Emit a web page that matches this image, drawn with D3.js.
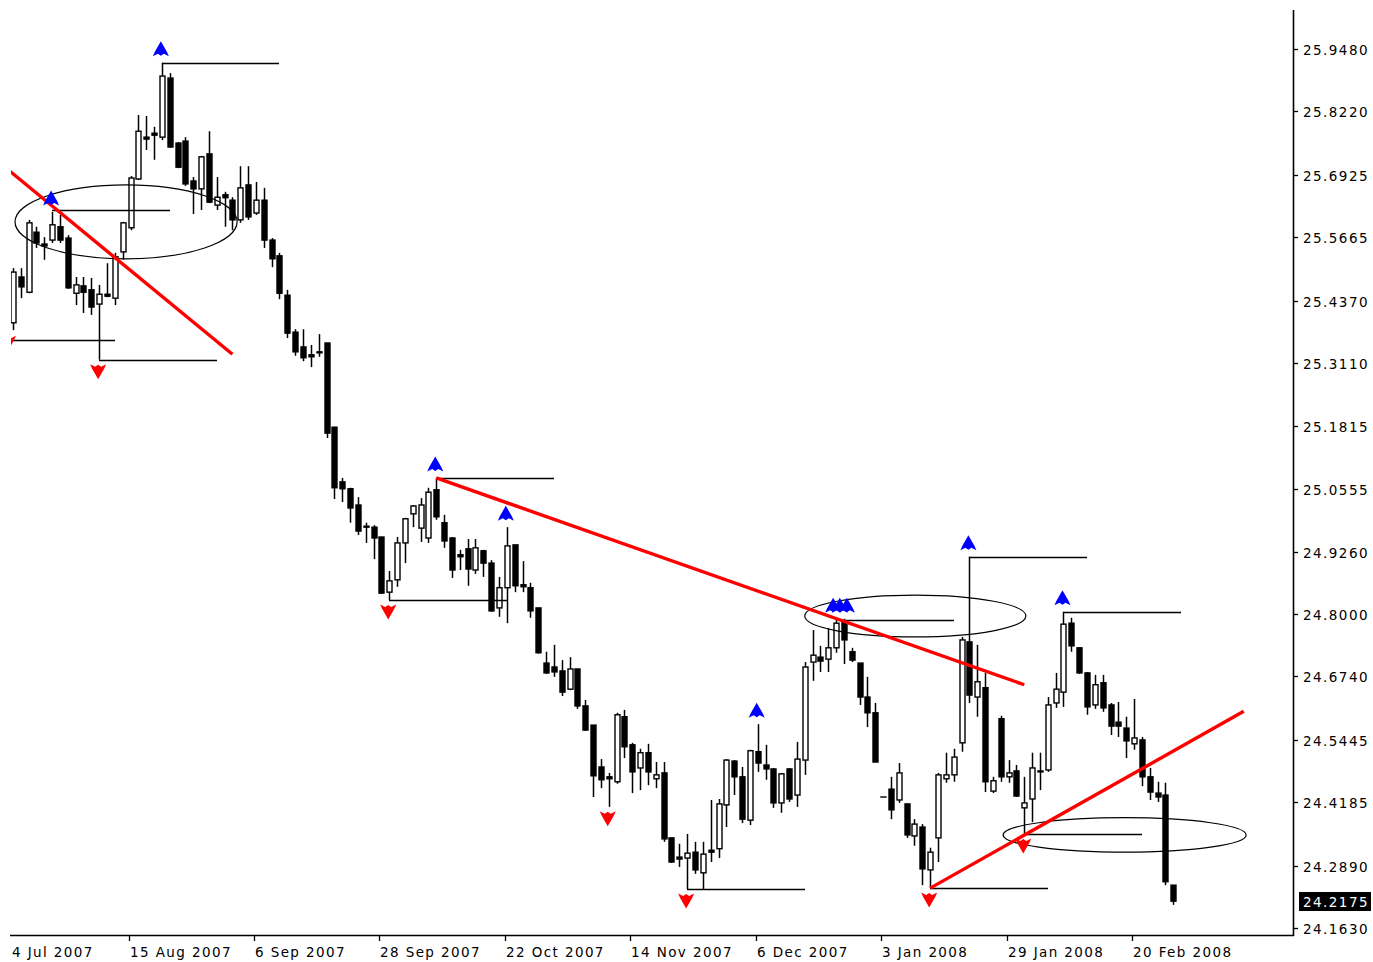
<!DOCTYPE html>
<html>
<head>
<meta charset="utf-8">
<script src="https://cdn.jsdelivr.net/npm/d3@7"></script>
<style>
  html, body { margin: 0; padding: 0; background: #fff; }
  svg { display: block; }
  text { font-family: "DejaVu Sans", Verdana, sans-serif; fill: #000; }
</style>
</head>
<body>
<svg id="chart" width="1373" height="962"></svg>
<script>
// Daily candles, 25 Jul 2007 .. 25 Feb 2008 (bar index 0..148)
const open = [25.392,25.485,25.454,25.576,25.552,25.560,25.587,25.564,25.452,25.467,
  25.459,25.430,25.450,25.442,25.536,25.585,25.684,25.769,25.777,25.769,
  25.889,25.757,25.761,25.680,25.664,25.735,25.631,25.652,25.641,25.601,
  25.672,25.615,25.641,25.560,25.528,25.448,25.373,25.343,25.327,25.333,
  25.351,25.180,25.069,25.055,25.022,24.979,24.977,24.957,24.845,24.870,
  24.945,25.004,24.975,24.955,25.053,24.986,24.955,24.921,24.933,24.890,
  24.929,24.904,24.813,24.854,24.941,24.860,24.854,24.813,24.701,24.693,
  24.685,24.648,24.689,24.614,24.575,24.490,24.470,24.460,24.592,24.535,
  24.488,24.519,24.466,24.478,24.346,24.307,24.305,24.317,24.275,24.321,
  24.324,24.413,24.502,24.470,24.382,24.521,24.494,24.486,24.417,24.486,
  24.433,24.504,24.703,24.713,24.709,24.732,24.784,24.724,24.701,24.632,
  24.600,24.429,24.445,24.423,24.415,24.350,24.368,24.281,24.346,24.466,
  24.474,24.539,24.744,24.632,24.651,24.441,24.588,24.470,24.482,24.407,
  24.425,24.482,24.484,24.620,24.642,24.782,24.732,24.681,24.616,24.661,
  24.616,24.581,24.569,24.537,24.545,24.470,24.437,24.433,24.250];
const high = [25.503,25.503,25.601,25.587,25.566,25.617,25.611,25.570,25.485,25.485,
  25.483,25.469,25.513,25.534,25.597,25.690,25.814,25.812,25.790,25.920,
  25.899,25.759,25.769,25.688,25.731,25.781,25.688,25.658,25.647,25.710,
  25.710,25.678,25.666,25.564,25.534,25.459,25.379,25.379,25.347,25.369,
  25.351,25.180,25.077,25.057,25.038,24.986,24.981,24.957,24.888,24.957,
  24.996,25.022,25.036,25.057,25.077,25.002,24.957,24.931,24.953,24.953,
  24.931,24.910,24.876,24.977,24.941,24.908,24.864,24.813,24.724,24.738,
  24.707,24.713,24.689,24.626,24.575,24.506,24.478,24.600,24.606,24.539,
  24.527,24.537,24.500,24.500,24.346,24.334,24.354,24.338,24.338,24.423,
  24.425,24.506,24.504,24.490,24.525,24.577,24.535,24.488,24.478,24.488,
  24.541,24.703,24.768,24.736,24.772,24.789,24.791,24.732,24.701,24.673,
  24.620,24.429,24.470,24.498,24.415,24.384,24.374,24.326,24.478,24.519,
  24.527,24.754,24.917,24.738,24.681,24.470,24.594,24.504,24.494,24.470,
  24.519,24.519,24.632,24.681,24.805,24.793,24.732,24.683,24.677,24.677,
  24.620,24.622,24.592,24.628,24.551,24.488,24.460,24.458,24.250];
const low = [25.377,25.442,25.452,25.544,25.520,25.554,25.554,25.461,25.428,25.412,
  25.408,25.317,25.444,25.428,25.520,25.580,25.682,25.743,25.723,25.763,
  25.747,25.706,25.670,25.613,25.621,25.635,25.621,25.587,25.580,25.595,
  25.601,25.611,25.544,25.505,25.440,25.361,25.325,25.314,25.302,25.323,
  25.158,25.034,25.028,24.986,24.961,24.945,24.912,24.843,24.829,24.856,
  24.904,24.977,24.947,24.945,24.992,24.935,24.874,24.890,24.858,24.882,
  24.876,24.805,24.795,24.782,24.845,24.845,24.793,24.720,24.679,24.673,
  24.634,24.646,24.608,24.563,24.429,24.447,24.409,24.456,24.508,24.437,
  24.443,24.453,24.447,24.338,24.295,24.287,24.242,24.273,24.242,24.297,
  24.305,24.368,24.433,24.376,24.372,24.480,24.464,24.407,24.397,24.419,
  24.409,24.474,24.665,24.683,24.683,24.722,24.699,24.703,24.616,24.571,
  24.500,24.429,24.384,24.417,24.346,24.330,24.250,24.244,24.297,24.458,
  24.460,24.521,24.620,24.592,24.439,24.437,24.460,24.458,24.429,24.354,
  24.378,24.443,24.480,24.610,24.612,24.724,24.679,24.596,24.608,24.602,
  24.555,24.551,24.508,24.525,24.451,24.423,24.419,24.250,24.210];
const close = [25.495,25.465,25.595,25.554,25.548,25.591,25.560,25.463,25.469,25.454,
  25.424,25.450,25.446,25.526,25.595,25.686,25.781,25.765,25.773,25.893,
  25.749,25.708,25.674,25.664,25.729,25.637,25.647,25.646,25.601,25.666,
  25.607,25.641,25.560,25.522,25.452,25.371,25.333,25.321,25.323,25.331,
  25.168,25.057,25.055,25.016,24.969,24.977,24.955,24.843,24.868,24.945,
  24.994,25.020,25.022,25.048,24.998,24.949,24.890,24.917,24.892,24.935,
  24.904,24.807,24.854,24.939,24.858,24.856,24.807,24.722,24.681,24.683,
  24.642,24.689,24.614,24.565,24.472,24.464,24.466,24.596,24.531,24.480,
  24.519,24.480,24.474,24.344,24.297,24.303,24.315,24.281,24.313,24.317,
  24.415,24.504,24.470,24.384,24.523,24.498,24.486,24.417,24.476,24.425,
  24.506,24.693,24.717,24.705,24.732,24.782,24.748,24.707,24.632,24.600,
  24.500,24.429,24.403,24.478,24.352,24.374,24.283,24.317,24.474,24.474,
  24.510,24.748,24.636,24.663,24.460,24.462,24.470,24.478,24.431,24.417,
  24.488,24.480,24.616,24.648,24.780,24.736,24.681,24.612,24.657,24.610,
  24.573,24.573,24.543,24.549,24.470,24.439,24.429,24.257,24.2175];

const lastPrice = 24.2175;

// Right-hand price scale labels
const priceTicks = [25.9480,25.8220,25.6925,25.5665,25.4370,25.3110,25.1815,
  25.0555,24.9260,24.8000,24.6740,24.5445,24.4185,24.2890,24.1630];
const priceTickLabels = ["25.9480","25.8220","25.6925","25.5665","25.4370","25.3110","25.1815",
  "25.0555","24.9260","24.8000","24.6740","24.5445","24.4185","24.2890","24.1630"];

// Time scale labels and the bar each one sits on
const dateLabels = ["4 Jul 2007","15 Aug 2007","6 Sep 2007","28 Sep 2007","22 Oct 2007",
  "14 Nov 2007","6 Dec 2007","3 Jan 2008","29 Jan 2008","20 Feb 2008"];
const dateBars = [0,15,31,47,63,79,95,111,127,143];

// Fractal markers (bar index, price of the extreme they mark)
const upFractalBars   = [5, 19, 54, 63, 95, 104.75, 105.6, 106.5, 122, 134];
const upFractalPrices = [25.617, 25.920, 25.077, 24.977, 24.577, 24.790, 24.790, 24.790, 24.917, 24.805];
const downFractalBars   = [-0.5, 11, 48, 76, 86, 117, 129];
const downFractalPrices = [25.375, 25.317, 24.829, 24.409, 24.242, 24.244, 24.354];

// Horizontal levels drawn from fractal bars (start bar, price, length in bars)
const levelBars    = [5, 19, 54, 106, 122, 134, -2, 11, 48, 86, 117, 129];
const levelPrices  = [25.621, 25.920, 25.077, 24.789, 24.917, 24.805, 25.357, 25.317, 24.829, 24.242, 24.244, 24.354];
const levelLengths = [15, 15, 15, 14, 15, 15, 15, 15, 15, 15, 15, 15];

// Red trend lines (start bar/price, end bar/price)
const trendStartBars  = [-2, 54, 117];
const trendStartPrice = [25.721, 25.077, 24.244];
const trendEndBars    = [28, 129, 157];
const trendEndPrice   = [25.328, 24.657, 24.603];

// Ellipse objects (left bar, right bar, top price, bottom price)
const ellipseLeft   = [0.27, 101.0, 126.3];
const ellipseRight  = [28.6, 129.2, 157.3];
const ellipseTop    = [25.672, 24.839, 24.387];
const ellipseBottom = [25.522, 24.754, 24.317];

// ---------------------------------------------------------------
const plot = { left: 11, right: 1293, top: 10, bottom: 935 };

const svg = d3.select("#chart");

const x = d3.scaleLinear().domain([0, 148]).range([12.9, 12.9 + 7.84 * 148]);
const y = d3.scaleLinear().domain([24.1630, 25.9480]).range([928, 49]);

svg.append("defs").append("clipPath").attr("id", "plotClip")
  .append("rect")
  .attr("x", plot.left).attr("y", plot.top)
  .attr("width", plot.right - plot.left).attr("height", plot.bottom - plot.top);

const g = svg.append("g").attr("clip-path", "url(#plotClip)");

const bars = d3.range(open.length).map(i => ({
  i, o: open[i], h: high[i], l: low[i], c: close[i]
}));

// Candles
const candle = g.append("g");
candle.selectAll("line.wick").data(bars).join("line")
  .attr("class", "wick")
  .attr("x1", d => Math.round(x(d.i)) + 0.5)
  .attr("x2", d => Math.round(x(d.i)) + 0.5)
  .attr("y1", d => y(d.h))
  .attr("y2", d => y(d.l))
  .attr("stroke", "#000").attr("stroke-width", 1.5);

candle.selectAll("rect.body").data(bars).join("rect")
  .attr("class", "body")
  .attr("x", d => Math.round(x(d.i)) - 2)
  .attr("y", d => y(Math.max(d.o, d.c)))
  .attr("width", 5)
  .attr("height", d => Math.max(0.01, y(Math.min(d.o, d.c)) - y(Math.max(d.o, d.c))))
  .attr("fill", d => d.c >= d.o ? "#fff" : "#000")
  .attr("stroke", "#000").attr("stroke-width", 1.4);

// Level lines from fractals
const levels = levelBars.map((b, k) => ({ b, p: levelPrices[k], n: levelLengths[k] }));
g.append("g")
  .selectAll("line").data(levels).join("line")
  .attr("x1", d => Math.round(x(d.b)))
  .attr("x2", d => Math.round(x(d.b + d.n)))
  .attr("y1", d => Math.round(y(d.p)) + 0.5)
  .attr("y2", d => Math.round(y(d.p)) + 0.5)
  .attr("stroke", "#000").attr("stroke-width", 1.4);

// Ellipses
const ellipses = ellipseLeft.map((l, k) => ({
  l, r: ellipseRight[k], t: ellipseTop[k], b: ellipseBottom[k]
}));
g.append("g").selectAll("ellipse").data(ellipses).join("ellipse")
  .attr("cx", d => (x(d.l) + x(d.r)) / 2)
  .attr("cy", d => (y(d.t) + y(d.b)) / 2)
  .attr("rx", d => (x(d.r) - x(d.l)) / 2)
  .attr("ry", d => (y(d.b) - y(d.t)) / 2)
  .attr("fill", "none").attr("stroke", "#000").attr("stroke-width", 1.2);

// Trend lines
const trends = trendStartBars.map((b, k) => ({
  b0: b, p0: trendStartPrice[k], b1: trendEndBars[k], p1: trendEndPrice[k]
}));
g.append("g").selectAll("line").data(trends).join("line")
  .attr("x1", d => x(d.b0)).attr("y1", d => y(d.p0))
  .attr("x2", d => x(d.b1)).attr("y2", d => y(d.p1))
  .attr("stroke", "#ff0000").attr("stroke-width", 3.4);

// Fractal arrows
const upPath = "M0,-7.5 L6,3 L8,7.5 L3,5 L0,7 L-3,5 L-8,7.5 L-6,3 Z";
const ups = upFractalBars.map((b, k) => ({ b, p: upFractalPrices[k] }));
const downs = downFractalBars.map((b, k) => ({ b, p: downFractalPrices[k] }));
g.append("g").selectAll("path").data(ups).join("path")
  .attr("d", upPath)
  .attr("transform", d => `translate(${x(d.b) - 1},${y(d.p) - 14})`)
  .attr("fill", "#0000ff");
g.append("g").selectAll("path").data(downs).join("path")
  .attr("d", upPath)
  .attr("transform", d => `translate(${x(d.b) - 1},${y(d.p) + 12}) scale(1,-1)`)
  .attr("fill", "#ff0000");

// Axes frame
const axis = svg.append("g");
axis.append("line")
  .attr("x1", plot.left - 1).attr("x2", plot.right + 1)
  .attr("y1", plot.bottom + 0.5).attr("y2", plot.bottom + 0.5)
  .attr("stroke", "#000").attr("stroke-width", 1.6);
axis.append("line")
  .attr("x1", plot.right + 0.5).attr("x2", plot.right + 0.5)
  .attr("y1", plot.top).attr("y2", plot.bottom + 1)
  .attr("stroke", "#000").attr("stroke-width", 1.6);

// Price scale
const yTicks = axis.selectAll("g.ytick").data(priceTicks).join("g")
  .attr("class", "ytick")
  .attr("transform", d => `translate(0,${Math.round(y(d))})`);
yTicks.append("line")
  .attr("x1", plot.right).attr("x2", plot.right + 5)
  .attr("y1", 0.5).attr("y2", 0.5).attr("stroke", "#000").attr("stroke-width", 1.3);
yTicks.append("text")
  .attr("x", plot.right + 10).attr("y", 1)
  .attr("dy", "0.36em")
  .attr("font-size", 13.5)
  .style("letter-spacing", "1.45px")
  .text((d, k) => priceTickLabels[k]);

// Last price marker
const lp = svg.append("g").attr("transform", `translate(0,${Math.round(y(lastPrice))})`);
lp.append("rect").attr("x", plot.right + 6).attr("y", -9).attr("width", 72).attr("height", 19)
  .attr("fill", "#000");
lp.append("text").attr("x", plot.right + 10).attr("y", 1).attr("dy", "0.36em")
  .attr("font-size", 13.5).style("letter-spacing", "1.45px")
  .style("fill", "#fff").text(lastPrice.toFixed(4));

// Time scale
const xTicks = axis.selectAll("g.xtick").data(dateBars).join("g")
  .attr("class", "xtick")
  .attr("transform", d => `translate(${Math.round(x(d)) - 2},0)`);
xTicks.filter(d => x(d) - 2 > plot.left + 2).append("line")
  .attr("x1", 0.5).attr("x2", 0.5)
  .attr("y1", plot.bottom).attr("y2", plot.bottom + 6)
  .attr("stroke", "#000").attr("stroke-width", 1.3);
xTicks.append("text")
  .attr("x", 1).attr("y", plot.bottom + 17)
  .attr("dy", "0.36em")
  .attr("font-size", 13.5)
  .style("letter-spacing", "1.4px")
  .text((d, k) => dateLabels[k]);
</script>
</body>
</html>
